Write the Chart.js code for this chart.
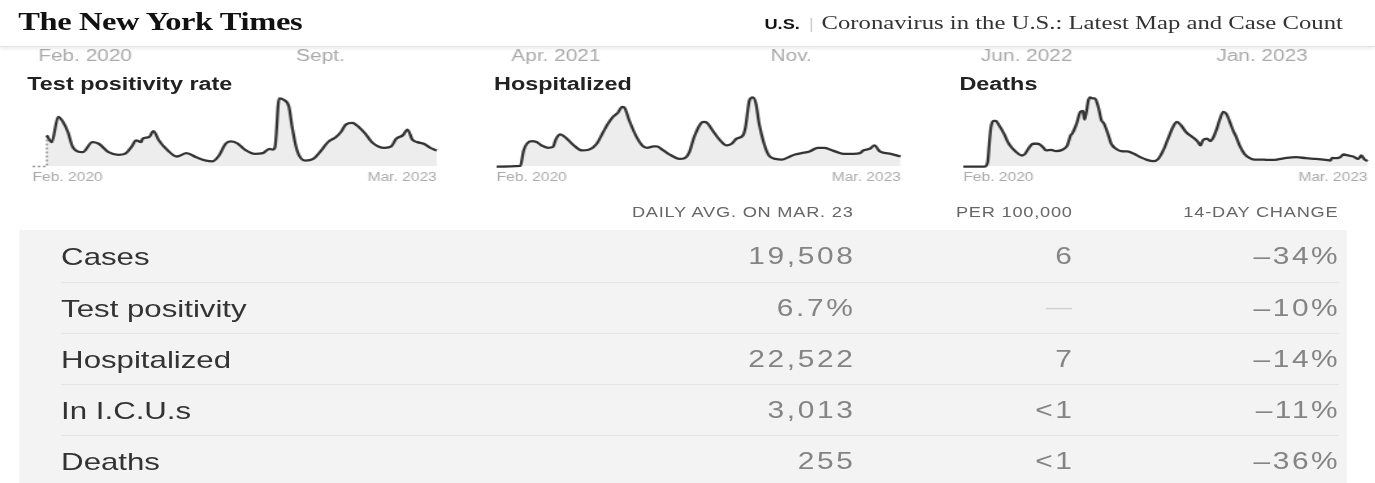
<!DOCTYPE html>
<html>
<head>
<meta charset="utf-8">
<script src="https://cdn.jsdelivr.net/npm/chart.js@4.4.0/dist/chart.umd.min.js"></script>
<style>
  html, body { margin: 0; padding: 0; background: #fff; overflow: hidden; }
  body { width: 1375px; height: 483px; position: relative; }
  #page { position: absolute; left: 0; top: 0; width: 1058px; height: 483px;
          transform: scaleX(1.3); transform-origin: 0 0; font-family: "Liberation Sans", Arial, sans-serif; }
  .hdr { position: absolute; left: 0; top: 0; width: 1058px; height: 46px; background: #fff; z-index: 3;
         border-bottom: 1px solid #e4e4e4; box-shadow: 0 2px 3px rgba(0,0,0,0.08); }
  .logo { position: absolute; left: 14px; top: 8px; font: bold 25px "Liberation Serif", serif; color: #111; letter-spacing: -0.3px; }
  .kicker { position: absolute; right: 25px; top: 12px; white-space: nowrap; color: #333; }
  .kicker b { font: bold 14px "Liberation Sans", Arial, sans-serif; color: #121212; }
  .kicker .sep { color: #ccc; margin: 0 6px 0 7px; font-size: 14px; }
  .kicker .hl { font: 19px "Liberation Serif", serif; }
  #strip { position: absolute; left: 0; top: 30px; z-index: 1; }
  .title { position: absolute; top: 74px; font: bold 18px "Liberation Sans", Arial, sans-serif; color: #222; }
  .spark { position: absolute; top: 90px; }
  .colhead { position: absolute; top: 204px; font-size: 14px; color: #666; letter-spacing: 0.6px; white-space: nowrap; }
  .tbg { position: absolute; left: 15px; top: 230px; width: 1021px; height: 253px; background: #f3f3f3; }
  .row { position: absolute; left: 47px; width: 983px; height: 51px; }
  .row.sepl { border-top: 1px solid #e4e4e4; }
  .row .lab { position: absolute; left: 0; top: 12px; font-size: 24px; color: #333; }
  .row .val { position: absolute; top: 12px; font-size: 23px; color: #848484; letter-spacing: 2px; white-space: nowrap; }
</style>
</head>
<body>
<div id="page">
  <div class="hdr">
    <div class="logo">The New York Times</div>
    <div class="kicker"><b>U.S.</b><span class="sep">|</span><span class="hl">Coronavirus in the U.S.: Latest Map and Case Count</span></div>
  </div>
  <canvas id="strip" width="1058" height="34"></canvas>

  <div class="title" style="left:21px">Test positivity rate</div>
  <div class="title" style="left:380px">Hospitalized</div>
  <div class="title" style="left:738px">Deaths</div>
  <canvas class="spark" id="posChart" width="319" height="99" style="left:21px"></canvas>
  <canvas class="spark" id="hospChart" width="319" height="99" style="left:378px"></canvas>
  <canvas class="spark" id="deathChart" width="319" height="99" style="left:737px"></canvas>

  <div id="heads"></div>
  <div class="tbg"></div>
  <div id="rows"></div>
</div>

<script>
// months since Feb. 2020
const stripMonths = [0, 7, 14, 21, 28, 35];
const stripLabels = ["Feb. 2020", "Sept.", "Apr. 2021", "Nov.", "Jun. 2022", "Jan. 2023"];
const sparkTicks = ["Feb. 2020", "Mar. 2023"];
const lastMonth = 37.7;

// test positivity rate, %
const posX = [1.33,1.79,2.39,2.85,3.30,3.76,4.67,5.58,6.18,7.09,8.0,8.61,9.21,9.67,10.12,10.27,10.88,11.27,11.79,12.55,13.45,14.36,15.27,16.18,16.79,17.39,18.0,18.45,19.06,19.82,20.73,21.48,22.09,22.39,22.61,23.0,23.45,23.91,24.21,24.67,25.42,26.18,26.79,27.55,28.30,28.76,29.21,29.82,30.42,31.03,31.64,32.24,32.85,33.45,33.91,34.52,34.97,35.42,35.88,36.48,37.09,37.70];
const posY = [13.0,10.2,20.7,18.6,14.4,8.1,6.0,10.2,9.5,6.0,4.9,5.3,8.1,10.9,10.2,11.6,12.3,14.8,10.9,7.0,4.2,5.6,3.9,2.5,2.2,4.6,9.5,10.5,9.8,7.0,5.3,5.6,7.4,7.1,8.1,28.4,27.7,24.9,16.5,6.7,2.5,3.2,6.0,10.2,12.3,14.4,17.5,18.2,16.5,13.7,10.2,8.4,7.8,8.4,11.6,13.0,15.4,11.2,10.2,9.5,7.8,6.7];

// hospitalized
const hospX = [0,2.21,2.52,2.82,3.27,3.73,4.18,4.79,5.24,5.55,5.94,6.45,7.21,7.97,8.58,9.33,9.94,10.39,10.85,11.30,11.70,11.91,12.36,12.97,13.58,14.03,14.64,14.94,15.55,16.30,17.06,17.52,17.97,18.42,19.03,19.33,19.64,20.24,20.85,21.45,21.91,22.36,22.97,23.21,23.58,23.88,24.18,24.48,24.94,25.39,26.0,26.61,27.21,27.82,28.42,29.18,29.94,30.55,31.15,31.76,32.36,33.27,33.88,34.18,34.79,35.24,35.70,36.15,36.76,37.67];
const hospY = [0,1500,36000,51000,57000,54750,47250,42000,43500,62250,72000,64500,47250,36000,37500,51000,77250,96000,111000,120000,133500,132000,103500,69750,47250,42000,45000,45000,36000,24750,17250,18750,32250,66000,96000,99750,97500,77250,58500,47250,51000,62250,69750,88500,148500,154500,141000,96000,51000,24750,17250,15750,21000,27000,30000,33750,42000,42000,37500,32250,28500,28500,30000,36000,39750,47250,34500,30750,28500,22500];

// deaths
const deathX = [0,1.97,2.27,2.42,2.58,2.82,3.03,3.33,3.79,4.24,4.85,5.45,5.76,6.06,6.52,6.97,7.42,7.73,8.18,8.64,9.24,9.70,10.0,10.15,10.45,10.61,10.91,11.15,11.30,11.45,11.67,11.82,12.03,12.27,12.58,12.88,13.12,13.48,13.79,14.24,14.70,15.30,15.91,16.52,17.12,17.73,18.18,18.64,19.09,19.55,19.91,20.30,20.76,21.36,21.82,22.12,22.33,22.73,23.03,23.33,23.64,23.94,24.24,24.55,24.85,25.15,25.45,25.76,26.21,26.67,27.12,27.73,28.33,28.94,29.55,30.15,31.06,31.97,32.88,33.79,34.24,34.39,34.85,35.15,35.45,35.91,36.36,36.82,37.12,37.36,37.70];
const deathY = [0,0,208,1088,1888,2176,2176,1968,1568,1088,736,528,608,848,1088,1088,928,768,800,736,800,1008,1488,1568,1888,2128,2608,2656,2240,2528,3168,3296,3248,3248,2848,2208,2048,1568,1088,848,736,720,608,448,320,256,368,768,1328,1888,2128,1968,1648,1408,1216,1008,1248,1328,1216,1408,1808,2288,2608,2496,2128,1728,1408,1008,608,416,336,336,320,320,368,416,448,400,368,320,288,416,400,448,576,528,480,368,528,368,256];

// table
const colHeaders = ["DAILY AVG. ON MAR. 23", "PER 100,000", "14-DAY CHANGE"];
const rowLabels = ["Cases", "Test positivity", "Hospitalized", "In I.C.U.s", "Deaths"];
const dailyAvg = ["19,508", "6.7%", "22,522", "3,013", "255"];
const per100k = ["6", "\u2014", "7", "<1", "<1"];
const change14 = ["\u201334%", "\u201310%", "\u201314%", "\u201311%", "\u201336%"];

Chart.defaults.font.family = '"Liberation Sans", Arial, sans-serif';
Chart.defaults.animation = false;

function points(xs, ys) {
  return xs.map((x, i) => ({ x: x, y: ys[i] }));
}

function sparkChart(id, data, yMax, extra) {
  const datasets = [{
    data: data,
    borderColor: "#333",
    borderWidth: 2.3,
    backgroundColor: "rgba(0,0,0,0.07)",
    fill: "origin",
    pointRadius: 0,
    cubicInterpolationMode: "monotone",
    clip: false
  }];
  if (extra) datasets.push(extra);
  return new Chart(document.getElementById(id), {
    type: "line",
    data: { datasets: datasets },
    options: {
      responsive: false,
      layout: { padding: 0 },
      plugins: { legend: { display: false }, tooltip: { enabled: false } },
      scales: {
        x: {
          type: "linear", min: 0, max: lastMonth,
          grid: { display: false, drawTicks: false },
          border: { display: false },
          afterBuildTicks: s => { s.ticks = [{ value: 0 }, { value: lastMonth }]; },
          ticks: {
            autoSkip: false, maxRotation: 0, align: "inner", padding: 4,
            color: "#aaa", font: { size: 12 },
            callback: (v, i) => sparkTicks[i]
          }
        },
        y: { display: false, min: 0, max: yMax }
      }
    }
  });
}

// dotted "no data" start of test positivity
const posGap = {
  data: [{ x: 0, y: 0 }, { x: posX[0], y: 0 }, { x: posX[0], y: posY[0] }],
  borderColor: "#999",
  borderWidth: 1.5,
  borderDash: [2, 2],
  pointRadius: 0,
  fill: false,
  clip: false
};

sparkChart("posChart", points(posX, posY), 31.9, posGap);
sparkChart("hospChart", points(hospX, hospY), 171000);
sparkChart("deathChart", points(deathX, deathY), 3648);

// axis strip left over from the big chart above, partly hidden by the header
new Chart(document.getElementById("strip"), {
  type: "line",
  data: { datasets: [{ data: [] }] },
  options: {
    responsive: false,
    layout: { padding: 0 },
    plugins: { legend: { display: false }, tooltip: { enabled: false } },
    scales: {
      x: {
        type: "linear", min: -2.53, max: 38.37,
        grid: { display: false, drawTicks: false },
        border: { display: false },
        afterBuildTicks: s => { s.ticks = stripMonths.map(m => ({ value: m })); },
        ticks: {
          autoSkip: false, maxRotation: 0, padding: 0,
          color: "#aaa", font: { size: 16 },
          callback: (v, i) => stripLabels[i]
        }
      },
      y: { display: false, min: 0, max: 1 }
    }
  }
});

// table
const colRight = [656, 824.6, 1029];
const heads = document.getElementById("heads");
colHeaders.forEach((h, i) => {
  const d = document.createElement("div");
  d.className = "colhead";
  d.textContent = h;
  d.style.right = (1058 - colRight[i] - 0.6) + "px";
  heads.appendChild(d);
});

const rows = document.getElementById("rows");
rowLabels.forEach((lab, r) => {
  const row = document.createElement("div");
  row.className = "row" + (r > 0 ? " sepl" : "");
  row.style.top = (231 + r * 51) + "px";
  const cells = [dailyAvg[r], per100k[r], change14[r]];
  let html = '<div class="lab">' + lab + '</div>';
  cells.forEach((c, i) => {
    const dash = c === "\u2014";
    html += '<div class="val" style="right:' + (47 + 983 - colRight[i] - 2) + 'px;' +
      (dash ? 'color:#d0d0d0;font-size:20px;top:13px;' : '') + '">' +
      c.replace("<", "&lt;") + '</div>';
  });
  row.innerHTML = html;
  rows.appendChild(row);
});
</script>
</body>
</html>
